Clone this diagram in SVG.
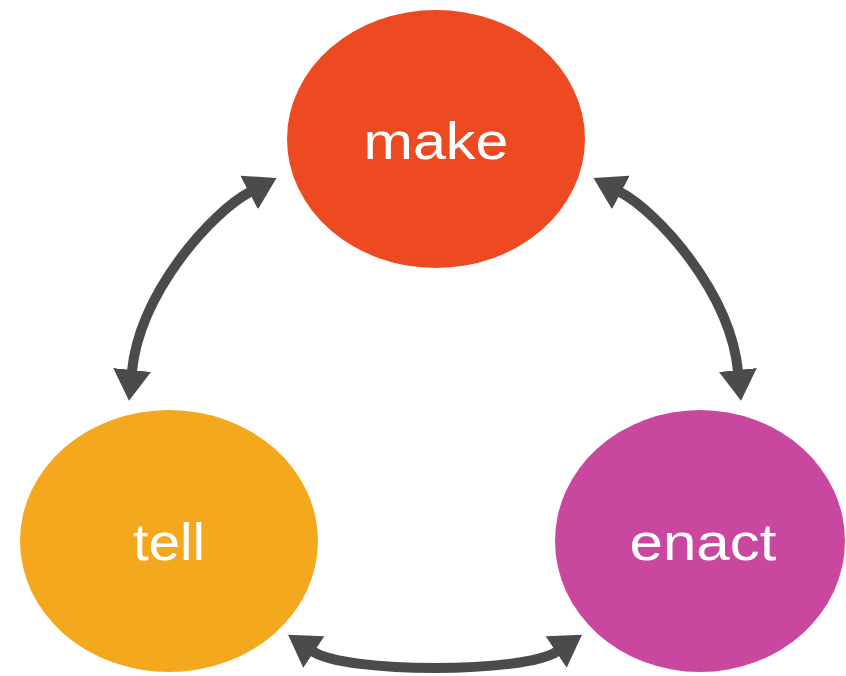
<svg xmlns="http://www.w3.org/2000/svg" width="846" height="676" viewBox="0 0 846 676">
<style>
.lbl{font-family:"Liberation Sans",Arial,sans-serif;font-size:52px;fill:#ffffff;text-anchor:middle}
.conn{fill:none;stroke:#4b4b4d;stroke-width:10;marker-start:url(#head);marker-end:url(#head)}
</style>
<defs>
<marker id="head" markerUnits="userSpaceOnUse" viewBox="0 -19 31 38" markerWidth="31" markerHeight="38" refX="1" refY="0" orient="auto-start-reverse">
<path d="M0,-19 L31,0 L0,19 Z" fill="#4b4b4d"/>
</marker>
</defs>
<rect width="846" height="676" fill="#ffffff"/>
<g id="make">
<ellipse cx="436" cy="139" rx="149" ry="129" fill="#ee4a22"/>
<text class="lbl" x="436" y="159" textLength="145" lengthAdjust="spacingAndGlyphs">make</text>
</g>
<g id="tell">
<ellipse cx="169" cy="541" rx="149" ry="131" fill="#f4a81d"/>
<text class="lbl" x="169" y="560" textLength="72" lengthAdjust="spacingAndGlyphs">tell</text>
</g>
<g id="enact">
<ellipse cx="700" cy="541" rx="145" ry="131" fill="#c9479f"/>
<text class="lbl" x="703" y="560" textLength="147" lengthAdjust="spacingAndGlyphs">enact</text>
</g>
<g id="connectors">
<path class="conn" d="M250,192 C212,212 140,292 132,371"/>
<path class="conn" d="M620,192 C658,212 730,292 738,371"/>
<path class="conn" d="M313,651.5 C346,673.5 524,673.5 557,651.5"/>
</g>
</svg>
